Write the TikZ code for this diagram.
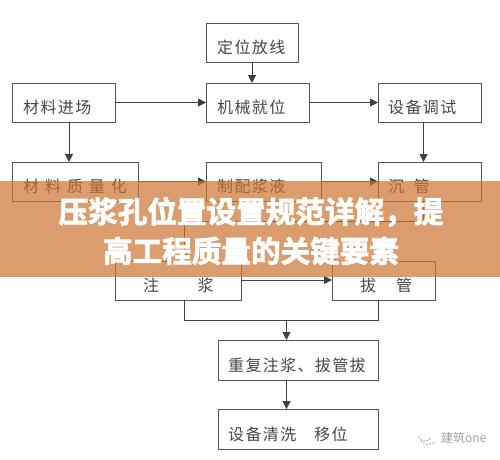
\documentclass[tikz,border=0pt]{standalone}
\usepackage{fontspec}
\usetikzlibrary{arrows.meta}
\newfontfamily\cnfont{Noto Sans CJK SC}
\newfontfamily\cnbold[UprightFont=* Bold,FakeBold=2.6]{Noto Sans CJK SC}
\definecolor{linec}{RGB}{85,85,85}
\definecolor{textc}{RGB}{70,70,70}
\definecolor{bannerc}{RGB}{204,114,48}
\tikzset{
  boxnode/.style={draw=linec,line width=1pt,fill=none,inner sep=0pt,outer sep=0pt},
  lbl/.style={anchor=west,inner sep=0pt,text=textc,font=\cnfont\fontsize{16}{18}\selectfont},
  conn/.style={draw=black!75,line width=1pt},
  arr/.style={conn,-{Triangle[length=8pt,width=8pt]}},
  titletext/.style={text=white,inner sep=0pt,font=\cnbold\fontsize{29.6}{32}\selectfont},
  marktext/.style={text=black!38,inner sep=0pt,font=\cnfont\fontsize{12}{13}\selectfont},
}
% name, x1, y1, x2, y2, text x, letter spacing, text
\newcommand{\flowbox}[8]{%
  \node[boxnode,minimum width={(#4-#2)*1pt},minimum height={(#5-#3)*1pt}] (#1) at ({(#2+#4)/2},{(#3+#5)/2}) {};
  \node[lbl] (#1t) at (#6,{(#3+#5)/2+5}) {\addfontfeature{LetterSpace=#7}#8};
}
\begin{document}
\begin{tikzpicture}[x=1pt,y=-1pt]
\useasboundingbox (0,0) rectangle (500,459);
\flowbox{dw}{206}{23}{298}{62}{217}{8.5}{定位放线}
\flowbox{cl}{12}{83}{115}{122}{23}{8.5}{材料进场}
\flowbox{jx}{206}{83}{309}{122}{217}{8.5}{机械就位}
\flowbox{sb}{378}{83}{481}{122}{388}{8.5}{设备调试}
\flowbox{zl}{12}{162}{138}{201}{23}{37}{材料质量化}
\flowbox{zp}{206}{162}{321}{201}{217}{8.5}{制配浆液}
\flowbox{cg}{378}{162}{481}{201}{388}{60}{沉管}
\flowbox{zj}{115}{261}{241}{300}{143}{240}{注浆}
\flowbox{bg}{332}{261}{435}{300}{360}{125}{拔管}
\flowbox{cf}{218}{340}{378}{380}{228}{8.5}{重复注浆、拔管拔}
\node[boxnode,minimum width=160pt,minimum height=40pt] (qx) at (298,429) {};
\node[lbl] (qxt) at (228,434) {\addfontfeature{LetterSpace=8.5}设备清洗\hspace{18pt}移位};
% vertical guide coordinates
\coordinate (vdw) at (252,0);
\coordinate (vcl) at (69,0);
\coordinate (vsb) at (423.5,0);
\coordinate (vmid) at (286.5,0);
\coordinate (vzj) at (184,0);
\coordinate (vbg) at (378,0);
\coordinate (hup) at (0,221);
\coordinate (hlow) at (0,320);
\coordinate (jup) at (vzj |- hup);
\coordinate (jlow) at (vmid |- hlow);
% connectors
\draw[arr] (vdw |- dw.south) -- (vdw |- jx.north);
\draw[arr] (cl.east) -- (jx.west);
\draw[arr] (jx.east) -- (sb.west);
\draw[arr] (vcl |- cl.south) -- (vcl |- zl.north);
\draw[arr] (vsb |- sb.south) -- (vsb |- cg.north);
\draw[arr] (zl.east) -- (zp.west);
\draw[arr] (zp.east) -- (cg.west);
\draw[arr] (vsb |- cg.south) -- (vsb |- hup) -- (jup) -- (vzj |- zj.north);
\draw[arr] (zj.east |- 0,280) -- (bg.west |- 0,280);
\draw[conn] (vzj |- zj.south) -- (vzj |- hlow) -- (vbg |- hlow) -- (vbg |- bg.south);
\draw[arr] (jlow) -- (vmid |- cf.north);
\draw[arr] (vmid |- cf.south) -- (vmid |- qx.north);
% banner
\fill[bannerc,fill opacity=.7] (0,181) rectangle (500,277);
\node[titletext] (t1) at (251,212) {压浆孔位置设置规范详解，提};
\node[titletext] (t2) at (251,251) {高工程质量的关键要素};
% watermark
\draw[black!30,line width=1.1pt,dotted,line cap=round] (419,437) arc[start angle=170,end angle=10,x radius=6,y radius=5];
\draw[black!30,line width=1.1pt,dotted,line cap=round] (421,441) .. controls (425,446) and (430,445) .. (435,442);
\node[marktext,anchor=west] (wm) at (441,438) {建筑one};
\end{tikzpicture}
\end{document}
